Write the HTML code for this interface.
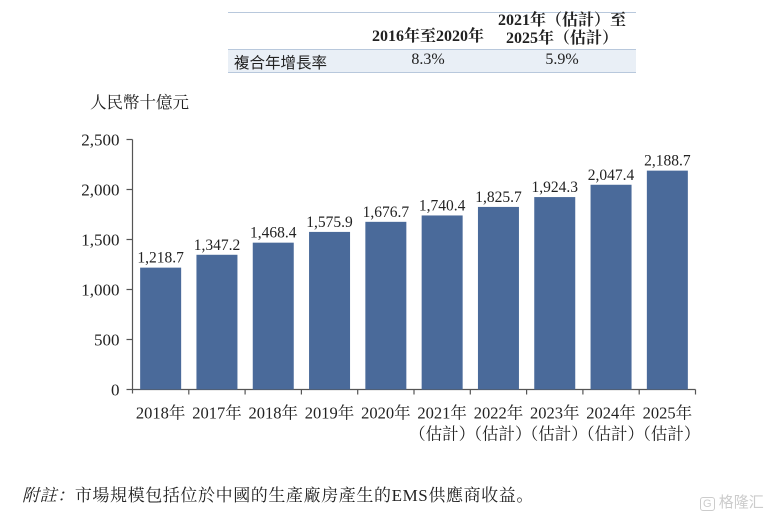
<!DOCTYPE html>
<html><head><meta charset="utf-8">
<style>
body{margin:0;background:#fff;width:777px;height:520px;overflow:hidden;position:relative;font-family:"Liberation Serif","Noto Serif CJK SC",serif;color:#222}
.abs{position:absolute}
</style></head>
<body>
<div class="abs" style="left:228px;top:12px;width:408px;height:61px">
  <div class="abs" style="left:0;top:0;width:408px;border-top:1.5px solid #b8c8dc"></div>
  <div class="abs" style="left:125px;top:11px;width:150px;text-align:center;font-weight:bold;font-size:16px">2016年至2020年</div>
  <div class="abs" style="left:250px;top:0px;width:168px;text-align:center;font-weight:bold;font-size:16px;line-height:18px">2021年（估計）至<br>2025年（估計）</div>
  <div class="abs" style="left:0;top:37px;width:408px;height:22px;background:#e9eff6;border-top:1px solid #b8c8dc;border-bottom:1.5px solid #b8c8dc"></div>
  <div class="abs" style="left:6px;top:39px;font-size:15.5px;font-family:'Liberation Sans','Noto Sans CJK TC',sans-serif">複合年增長率</div>
  <div class="abs" style="left:125px;top:39px;width:150px;text-align:center;font-size:16px">8.3%</div>
  <div class="abs" style="left:250px;top:39px;width:168px;text-align:center;font-size:16px">5.9%</div>
</div>
<div class="abs" style="left:90px;top:89px;font-size:16.5px">人民幣十億元</div>
<svg class="abs" style="left:0;top:0" width="777" height="470" id="chart"></svg>
<div class="abs" style="left:22px;top:481px;font-size:17px;letter-spacing:0.6px"><i>附註：</i>市場規模包括位於中國的生產廠房產生的EMS供應商收益。</div>
<div class="abs" style="left:700px;top:491px;font-size:15px;color:#ccc;font-family:'Liberation Sans','Noto Sans CJK SC',sans-serif"><span style="border:1.5px solid #ccc;border-radius:3px;padding:0 2px;font-size:11px">G</span> 格隆汇</div>
<script>
const labels=["2018年","2017年","2018年","2019年","2020年","2021年","2022年","2023年","2024年","2025年"];
const sublabels=["","","","","","(估計)","(估計)","(估計)","(估計)","(估計)"];
const values=[1218.7,1347.2,1468.4,1575.9,1676.7,1740.4,1825.7,1924.3,2047.4,2188.7];
const yTicks=[0,500,1000,1500,2000,2500];
const NS="http://www.w3.org/2000/svg";
const svg=document.getElementById('chart');
const x0=132.5,y0=389.5,band=56.3,bw=41;
const y=v=>y0-v*0.1;
const xc=i=>x0+band*(i+0.5);
function mk(t,a,txt){const e=document.createElementNS(NS,t);for(const k in a)e.setAttribute(k,a[k]);if(txt!=null)e.textContent=txt;svg.appendChild(e);return e;}
let ax=mk('line',{x1:x0,y1:y(2500),x2:x0,y2:y0+4,stroke:'#555','stroke-width':1.2});


let bx=mk('line',{x1:x0,y1:y0,x2:x0+band*labels.length,y2:y0,stroke:'#555','stroke-width':1.2});


yTicks.forEach(t=>{
  mk('line',{x1:x0-6,y1:y(t),x2:x0,y2:y(t),stroke:'#555','stroke-width':1.2});
  let tx=mk('text',{x:x0-13,y:y(t)+6,'text-anchor':'end','font-size':17,fill:'#222'},t.toLocaleString('en-US'));
  
  
});
values.forEach((v,i)=>{
  let r=mk('rect',{x:xc(i)-bw/2,y:y(v),width:bw,height:y0-y(v),fill:'#4a6a9a'});
  
  
  let vl=mk('text',{x:xc(i),y:y(v)-5,'text-anchor':'middle','font-size':15.5,fill:'#222'},v.toLocaleString('en-US',{minimumFractionDigits:1}));
  
  
  mk('line',{x1:x0+band*(i+1),y1:y0,x2:x0+band*(i+1),y2:y0+5,stroke:'#555','stroke-width':1.2});
  let xl=mk('text',{x:xc(i),y:y0+29,'text-anchor':'middle','font-size':16.5,fill:'#222'},labels[i]);
  
  
  if(sublabels[i]){
    let sl=mk('text',{x:xc(i),y:y0+50,'text-anchor':'middle','font-size':16.5,fill:'#222'},sublabels[i].replace('(','（').replace(')','）'));
    
    
  }
});
</script>
</body></html>
